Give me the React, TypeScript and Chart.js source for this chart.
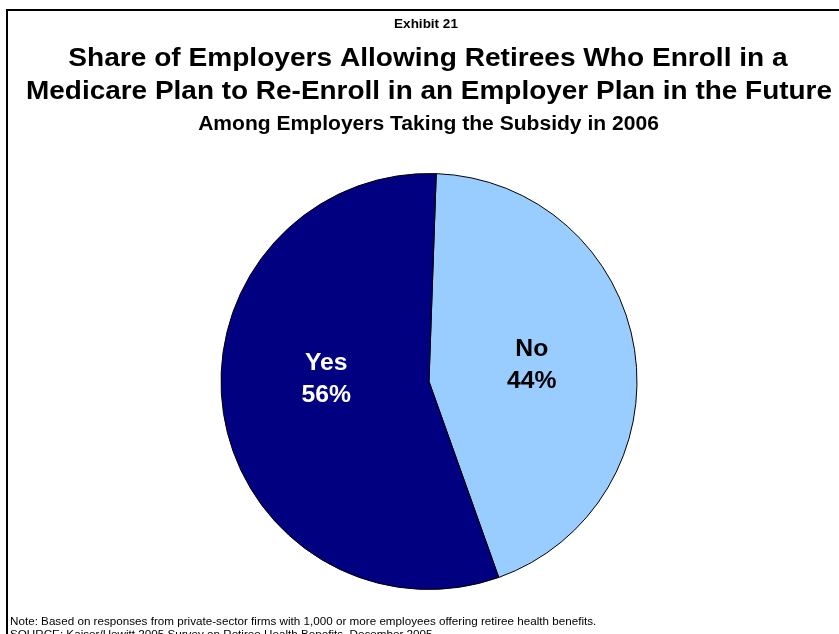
import React, { useEffect, useRef } from "react";
import { Chart, registerables } from "chart.js";

Chart.register(...registerables);

const categories = ["No", "Yes"];
const values = [44, 56];
const sliceColors = ["#99CCFF", "#000080"];
const labelColors = ["#000000", "#FFFFFF"];
const labelOffsetY = [0, -18];

const exhibitText = "Exhibit 21";
const titleLines = [
  "Share of Employers Allowing Retirees Who Enroll in a",
  "Medicare Plan to Re-Enroll in an Employer Plan in the Future",
];
const subtitleText = "Among Employers Taking the Subsidy in 2006";
const noteLines = [
  "Note: Based on responses from private-sector firms with 1,000 or more employees offering retiree health benefits.",
  "SOURCE: Kaiser/Hewitt 2005 Survey on Retiree Health Benefits, December 2005.",
];

const FONT = '"Liberation Sans", Arial, Helvetica, sans-serif';

function drawText(
  ctx: CanvasRenderingContext2D,
  text: string,
  x: number,
  y: number,
  font: string,
  color: string,
  align: CanvasTextAlign,
  sx: number
) {
  ctx.save();
  ctx.translate(x, y);
  ctx.scale(sx, 1);
  ctx.font = font;
  ctx.fillStyle = color;
  ctx.textAlign = align;
  ctx.textBaseline = "middle";
  ctx.fillText(text, 0, 0);
  ctx.restore();
}

const decorPlugin = {
  id: "decor",
  beforeDraw(chart: any) {
    const ctx = chart.ctx as CanvasRenderingContext2D;
    ctx.save();
    ctx.fillStyle = "#FFFFFF";
    ctx.fillRect(0, 0, chart.width, chart.height);
    ctx.strokeStyle = "#000000";
    ctx.lineWidth = 2;
    ctx.strokeRect(7, 10, 900, 700);
    ctx.restore();
  },
  afterDraw(chart: any) {
    const ctx = chart.ctx as CanvasRenderingContext2D;
    drawText(ctx, exhibitText, 426, 25, `bold 12.5px ${FONT}`, "#000", "center", 1.08);
    drawText(ctx, titleLines[0], 428, 59, `bold 26px ${FONT}`, "#000", "center", 1.08);
    drawText(ctx, titleLines[1], 429, 92, `bold 26px ${FONT}`, "#000", "center", 1.075);
    drawText(ctx, subtitleText, 428.5, 125, `bold 19.5px ${FONT}`, "#000", "center", 1.08);
    drawText(ctx, noteLines[0], 10, 622, `11px ${FONT}`, "#000", "left", 1.06);
    drawText(ctx, noteLines[1], 10, 635, `11px ${FONT}`, "#000", "left", 1.06);

    const meta = chart.getDatasetMeta(0);
    meta.data.forEach((arc: any, i: number) => {
      const p = arc.getCenterPoint();
      const cy = p.y + labelOffsetY[i];
      const font = `bold 24px ${FONT}`;
      drawText(ctx, categories[i], p.x, cy - 16, font, labelColors[i], "center", 1.03);
      drawText(ctx, `${values[i]}%`, p.x, cy + 16, font, labelColors[i], "center", 1.03);
    });
  },
};

export default function App() {
  const ref = useRef<HTMLCanvasElement | null>(null);
  useEffect(() => {
    if (!ref.current) return;
    const chart = new Chart(ref.current, {
      type: "pie",
      data: {
        labels: categories,
        datasets: [
          {
            data: values,
            backgroundColor: sliceColors,
            borderColor: "#000000",
            borderWidth: 1,
          },
        ],
      },
      options: {
        responsive: false,
        animation: false,
        rotation: 2,
        layout: { padding: { top: 173, bottom: 44, left: 19, right: 0 } },
        plugins: {
          legend: { display: false },
          tooltip: { enabled: false },
          title: { display: false },
        },
      },
      plugins: [decorPlugin],
    });
    return () => chart.destroy();
  }, []);
  return (
    <div style={{ position: "fixed", left: 0, top: 0, width: 839, height: 634, overflow: "hidden", background: "#fff" }}>
      <canvas ref={ref} width={839} height={634} style={{ width: 839, height: 634, display: "block" }} />
    </div>
  );
}
